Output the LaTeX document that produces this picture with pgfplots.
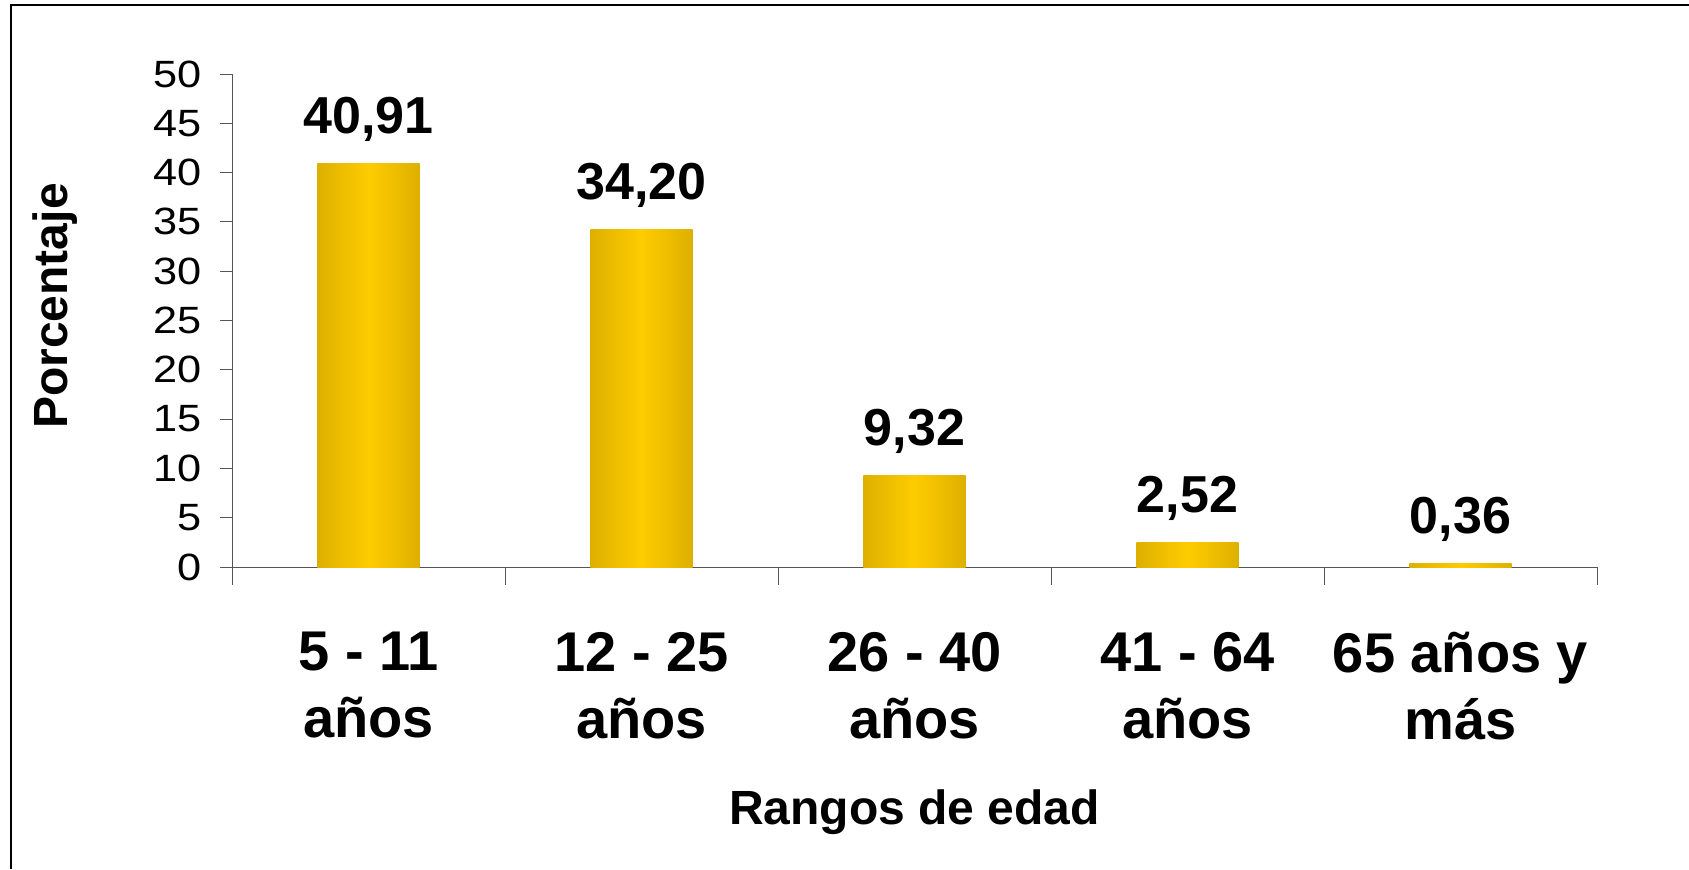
\documentclass[border=0pt]{standalone}
\usepackage{pgfplots}
\pgfplotsset{compat=1.18}
\usepackage{fontspec}
\setmainfont{Liberation Sans}
\definecolor{axisgray}{RGB}{85,85,85}
\definecolor{barside}{RGB}{221,176,0}
\definecolor{barmid}{RGB}{255,204,0}

\begin{document}
\begin{tikzpicture}
\useasboundingbox (0,0) rectangle (844.5pt,434.5pt);
% frame of the chart area (only left and top edges show)
\draw[line width=0.6pt] (5.5pt,0) -- (5.5pt,432pt) -- (844.5pt,432pt);
\begin{axis}[
    at={(116pt,151pt)}, anchor=south west,
    width=682.5pt, height=246.5pt, scale only axis,
    xmin=-0.5, xmax=4.5, ymin=0, ymax=50,
    axis lines*=left,
    axis line style={axisgray, line width=0.5pt, -},
    clip=false,
    tick align=outside,
    major tick length=6pt,
    ytick={0,5,...,50},
    ytick style={axisgray, line width=0.5pt},
    xtick={0,...,4},
    xtick style={draw=none},
    xticklabels={{5 - 11\\años},{12 - 25\\años},{26 - 40\\años},{41 - 64\\años},{65 años y\\más}},
    xticklabel style={anchor=north, yshift=-26.5pt, inner sep=0pt, align=center,
      font=\fontsize{28}{33.5}\selectfont\bfseries},
    yticklabel style={anchor=east, xshift=-9pt, inner sep=0pt, xscale=1.14,
      font=\fontsize{19}{22}\selectfont},
    /pgf/number format/assume math mode=true,
    xlabel={Rangos de edad},
    ylabel={Porcentaje},
    every axis x label/.style={at={(axis description cs:0.5,-0.5213)}, anchor=base,
      font=\fontsize{24}{29}\selectfont\bfseries},
    every axis y label/.style={at={(axis description cs:-0.1297,0.5294)}, rotate=90,
      anchor=center, font=\fontsize{24}{29}\selectfont\bfseries},
    goldbar/.style={ybar, bar width=0.374, bar shift=0pt, draw=none,
      left color=barside, right color=barside, middle color=barmid,
      nodes near coords={\pgfmathprintnumber[fixed, fixed zerofill, precision=2, use comma, assume math mode=true]{\pgfplotspointmeta}},
      every node near coord/.append style={anchor=base, yshift=15pt, inner sep=0pt,
        black, font=\fontsize{26}{31}\selectfont\bfseries}},
  ]
  % one plot per bar so that each bar gets its own shading
  \addplot[goldbar] coordinates {(0,40.91)};
  \addplot[goldbar] coordinates {(1,34.20)};
  \addplot[goldbar] coordinates {(2,9.32)};
  \addplot[goldbar] coordinates {(3,2.52)};
  \addplot[goldbar] coordinates {(4,0.36)};
  % category boundary ticks below the x axis
  \draw[axisgray, line width=0.5pt] (axis cs:-0.5,0) -- ++(0pt,-9pt);
  \draw[axisgray, line width=0.5pt] (axis cs:0.5,0) -- ++(0pt,-9pt);
  \draw[axisgray, line width=0.5pt] (axis cs:1.5,0) -- ++(0pt,-9pt);
  \draw[axisgray, line width=0.5pt] (axis cs:2.5,0) -- ++(0pt,-9pt);
  \draw[axisgray, line width=0.5pt] (axis cs:3.5,0) -- ++(0pt,-9pt);
  \draw[axisgray, line width=0.5pt] (axis cs:4.5,0) -- ++(0pt,-9pt);
\end{axis}
\end{tikzpicture}
\end{document}
